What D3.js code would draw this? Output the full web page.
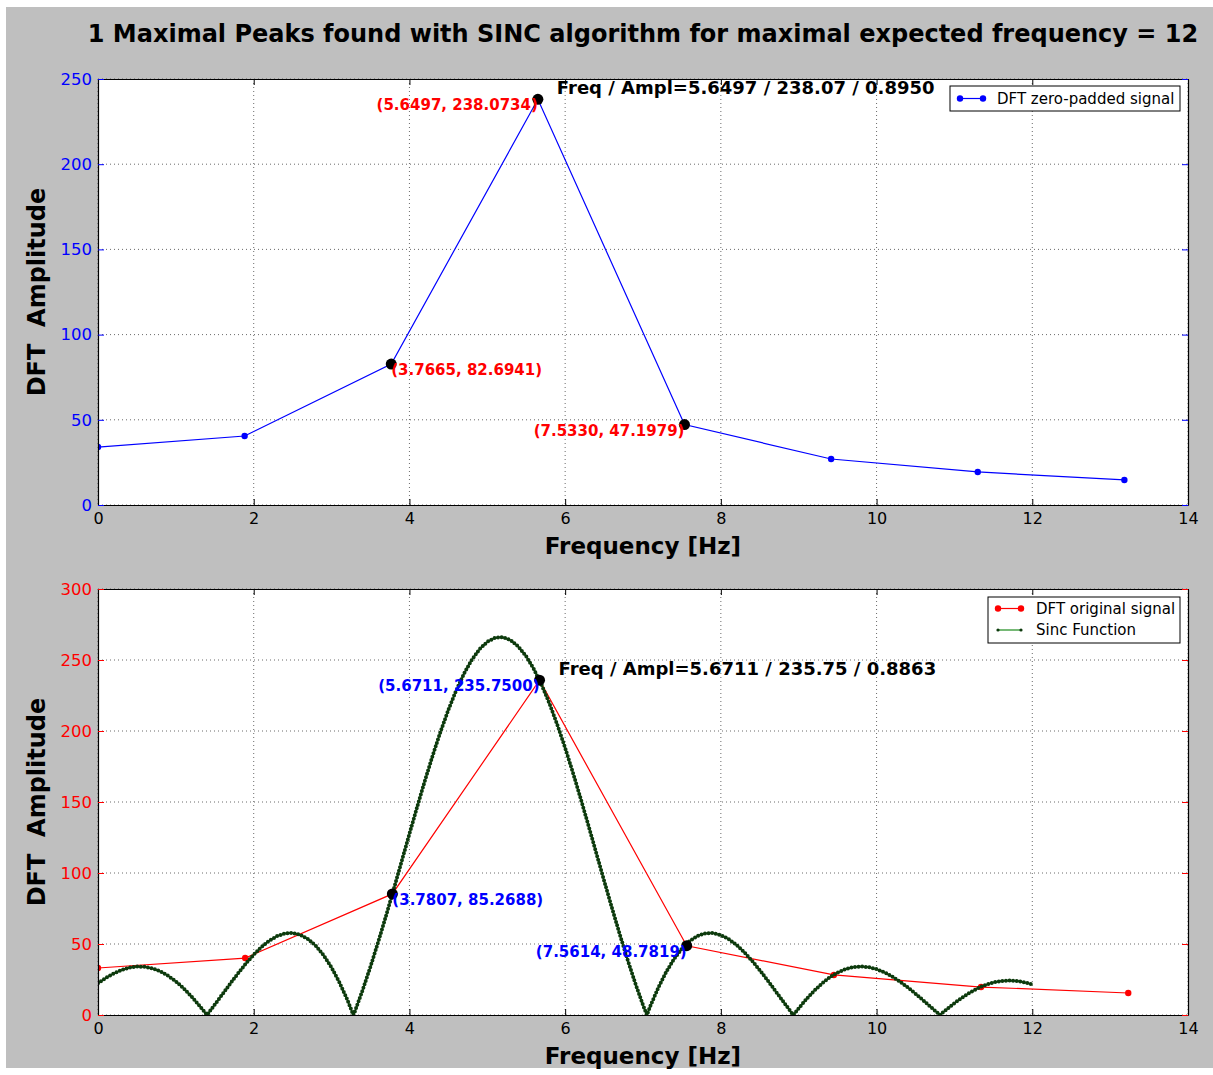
<!DOCTYPE html>
<html>
<head>
<meta charset="utf-8">
<script src="https://cdn.jsdelivr.net/npm/d3@7"></script>
<style>
  html, body { margin: 0; padding: 0; background: #ffffff; }
  svg { display: block; font-family: "DejaVu Sans", sans-serif; }
</style>
</head>
<body>
<svg id="chart" width="1213" height="1075"></svg>
<script>
// ---------------- DATA ----------------
const titleText = "1 Maximal Peaks found with SINC algorithm for maximal expected frequency = 12";
const xTicks = [0, 2, 4, 6, 8, 10, 12, 14];
const topYTicks = [0, 50, 100, 150, 200, 250];
const botYTicks = [0, 50, 100, 150, 200, 250, 300];

// DFT zero-padded signal (top panel)
const topFreq = [0, 1.8832, 3.7665, 5.6497, 7.5330, 9.4162, 11.2995, 13.1827];
const topAmp  = [34.0, 40.5, 82.6941, 238.0734, 47.1979, 27.0, 19.4, 14.7];
const topPeakFreq = [5.6497, 3.7665, 7.5330];
const topPeakAmp  = [238.0734, 82.6941, 47.1979];
const topPeakLabels = ["(5.6497, 238.0734)", "(3.7665, 82.6941)", "(7.5330, 47.1979)"];
const topInfo = "Freq / Ampl=5.6497 / 238.07 / 0.8950";

// DFT original signal (bottom panel)
const botFreq = [0, 1.8904, 3.7807, 5.6711, 7.5614, 9.4518, 11.3421, 13.2325];
const botAmp  = [33.1, 40.1, 85.2688, 235.75, 48.7819, 28.2, 19.7, 15.5];
const botPeakFreq = [5.6711, 3.7807, 7.5614];
const botPeakAmp  = [235.75, 85.2688, 48.7819];
const botPeakLabels = ["(5.6711, 235.7500)", "(3.7807, 85.2688)", "(7.5614, 48.7819)"];
const botInfo = "Freq / Ampl=5.6711 / 235.75 / 0.8863";

// Sinc function
const sincFreq = [0.0,0.1,0.2,0.3,0.4,0.5,0.6,0.7,0.8,0.9,1.0,1.1,1.2,1.3,1.4,1.5,1.6,1.7,1.8,1.9,
  2.0,2.1,2.2,2.3,2.4,2.5,2.6,2.7,2.8,2.9,3.0,3.1,3.2,3.28,3.3,3.4,3.5,3.6,3.7,3.8,3.9,
  4.0,4.1,4.2,4.3,4.4,4.5,4.6,4.7,4.8,4.9,5.0,5.1,5.2,5.3,5.4,5.5,5.6,5.7,5.8,5.9,
  6.0,6.1,6.2,6.3,6.4,6.5,6.6,6.7,6.8,6.9,7.0,7.05,7.1,7.2,7.3,7.4,7.5,7.6,7.7,7.8,7.9,
  8.0,8.1,8.2,8.3,8.4,8.5,8.6,8.7,8.8,8.9,8.93,9.0,9.1,9.2,9.3,9.4,9.5,9.6,9.7,9.8,9.9,
  10.0,10.1,10.2,10.3,10.4,10.5,10.6,10.7,10.8,10.81,10.9,11.0,11.1,11.2,11.3,11.4,11.5,11.6,11.7,11.8,11.9,12.0];
const sincAmp = [22.35,26.08,29.23,31.68,33.34,34.12,33.97,32.84,30.73,27.65,23.64,18.76,13.09,6.76,0.10,7.33,14.76,22.19,29.43,36.27,
  42.51,47.93,52.34,55.57,57.42,57.76,56.46,53.42,48.58,41.90,33.39,23.08,11.05,0,2.60,17.71,34.12,51.61,69.97,88.94,108.22,
  127.56,146.65,165.23,182.96,199.60,214.87,228.50,240.33,250.07,257.59,262.81,265.68,266.05,263.95,259.41,252.54,243.42,232.29,219.13,204.30,
  188.10,170.66,152.31,133.32,114.01,94.69,75.62,57.05,39.26,22.51,6.98,0,7.12,19.64,30.49,39.54,46.77,52.16,55.74,57.55,57.69,
  56.28,53.45,49.39,44.24,38.22,31.55,24.40,16.99,9.54,2.24,0,4.76,11.26,17.13,22.26,26.55,29.91,32.31,33.73,34.17,33.67,
  32.27,30.05,27.09,23.52,19.44,14.99,10.29,5.47,0.69,0,3.95,8.32,12.32,15.85,18.83,21.20,22.93,23.96,24.31,23.99,23.01,21.44];

// ---------------- DRAW ----------------
const svg = d3.select("#chart");
svg.append("rect").attr("x", 6).attr("y", 7).attr("width", 1207).attr("height", 1061).attr("fill", "#bfbfbf");

svg.append("text").attr("x", 643).attr("y", 42).attr("text-anchor", "middle")
  .attr("font-size", 24).attr("font-weight", "bold").attr("fill", "#000").text(titleText);

function panel(opt) {
  const x = d3.scaleLinear().domain([0, 14]).range([98, 1188]);
  const y = d3.scaleLinear().domain([0, opt.ymax]).range([opt.bottom, opt.top]);
  const g = svg.append("g");
  g.append("rect").attr("x", 98).attr("y", opt.top).attr("width", 1090).attr("height", opt.bottom - opt.top).attr("fill", "#fff");
  // grid
  const grid = g.append("g").attr("stroke", "#444").attr("stroke-width", 0.8).attr("stroke-dasharray", "1,3");
  xTicks.forEach(t => grid.append("line").attr("x1", x(t)).attr("x2", x(t)).attr("y1", opt.top).attr("y2", opt.bottom));
  opt.yticks.forEach(t => grid.append("line").attr("x1", 98).attr("x2", 1188).attr("y1", y(t)).attr("y2", y(t)));

  const clip = "clip" + opt.id;
  svg.append("clipPath").attr("id", clip).append("rect").attr("x", 98).attr("y", opt.top - 6).attr("width", 1090).attr("height", opt.bottom - opt.top + 6);
  const plot = g.append("g").attr("clip-path", `url(#${clip})`);
  opt.draw(plot, x, y);

  // axes with inward ticks
  const axB = d3.axisBottom(x).tickValues(xTicks).tickSizeInner(-6).tickSizeOuter(0).tickPadding(8).tickFormat(d3.format("d"));
  const axT = d3.axisTop(x).tickValues(xTicks).tickSizeInner(-6).tickSizeOuter(0).tickFormat("");
  const axL = d3.axisLeft(y).tickValues(opt.yticks).tickSizeInner(-6).tickSizeOuter(0).tickPadding(6).tickFormat(d3.format("d"));
  const axR = d3.axisRight(y).tickValues(opt.yticks).tickSizeInner(-6).tickSizeOuter(0).tickFormat("");
  const gb = g.append("g").attr("transform", `translate(0,${opt.bottom})`).call(axB);
  const gt = g.append("g").attr("transform", `translate(0,${opt.top})`).call(axT);
  const gl = g.append("g").attr("transform", `translate(98,0)`).call(axL);
  const gr = g.append("g").attr("transform", `translate(1188,0)`).call(axR);
  [gb, gt, gl, gr].forEach(a => { a.select(".domain").attr("stroke", "#000").attr("stroke-width", 1.2); });
  gb.selectAll("text").attr("font-size", 16).attr("fill", "#000").attr("font-family", "DejaVu Sans");
  gb.selectAll("line").attr("stroke", "#000");
  gt.selectAll("line").attr("stroke", "#000");
  gl.selectAll("text").attr("font-size", 16.5).attr("fill", opt.ycolor).attr("font-family", "DejaVu Sans");
  gl.selectAll("line").attr("stroke", opt.ycolor);
  gr.selectAll("line").attr("stroke", opt.ycolor);

  g.append("text").attr("x", 643).attr("y", opt.bottom + 49).attr("text-anchor", "middle")
    .attr("font-size", 23).attr("font-weight", "bold").attr("fill", "#000").text("Frequency [Hz]");
  g.append("text").attr("transform", `translate(45,${(opt.top + opt.bottom) / 2}) rotate(-90)`).attr("text-anchor", "middle")
    .attr("font-size", 24).attr("font-weight", "bold").attr("fill", "#000").attr("xml:space", "preserve").style("white-space", "pre").text("DFT  Amplitude");

  // peaks
  const pk = g.append("g");
  opt.peakFreq.forEach((f, i) => {
    pk.append("circle").attr("cx", x(f)).attr("cy", y(opt.peakAmp[i])).attr("r", 5.5).attr("fill", "#000");
  });
  // labels
  const lab = g.append("g").attr("font-size", 15).attr("font-weight", "bold").attr("fill", opt.labelColor);
  lab.append("text").attr("x", x(opt.peakFreq[0])).attr("y", y(opt.peakAmp[0]) + 11).attr("text-anchor", "end").text(opt.peakLabels[0]);
  lab.append("text").attr("x", x(opt.peakFreq[1])).attr("y", y(opt.peakAmp[1]) + 11).attr("text-anchor", "start").text(opt.peakLabels[1]);
  lab.append("text").attr("x", x(opt.peakFreq[2])).attr("y", y(opt.peakAmp[2]) + 11).attr("text-anchor", "end").text(opt.peakLabels[2]);
  g.append("text").attr("x", x(opt.peakFreq[0]) + 19).attr("y", y(opt.peakAmp[0]) - 5).attr("font-size", 18).attr("font-weight", "bold")
    .attr("fill", "#000").text(opt.info);
  opt.legend(g);
}

panel({
  id: "top", top: 79, bottom: 505, ymax: 250, yticks: topYTicks, ycolor: "#0000ff", labelColor: "#ff0000",
  peakFreq: topPeakFreq, peakAmp: topPeakAmp, peakLabels: topPeakLabels, info: topInfo,
  draw: (p, x, y) => {
    const pts = topFreq.map((f, i) => [x(f), y(topAmp[i])]);
    p.append("path").attr("d", d3.line()(pts)).attr("fill", "none").attr("stroke", "#0000ff").attr("stroke-width", 1.2);
    p.selectAll(".m").data(pts).join("circle").attr("cx", d => d[0]).attr("cy", d => d[1]).attr("r", 3.2).attr("fill", "#0000ff");
  },
  legend: g => {
    g.append("rect").attr("x", 950).attr("y", 86).attr("width", 230).attr("height", 25).attr("fill", "#fff").attr("stroke", "#000").attr("stroke-width", 1);
    g.append("line").attr("x1", 960).attr("x2", 983).attr("y1", 98.5).attr("y2", 98.5).attr("stroke", "#0000ff").attr("stroke-width", 1.2);
    [960, 983].forEach(cx => g.append("circle").attr("cx", cx).attr("cy", 98.5).attr("r", 3.2).attr("fill", "#0000ff"));
    g.append("text").attr("x", 997).attr("y", 104).attr("font-size", 15).attr("fill", "#000").text("DFT zero-padded signal");
  }
});

panel({
  id: "bot", top: 589, bottom: 1015, ymax: 300, yticks: botYTicks, ycolor: "#ff0000", labelColor: "#0000ff",
  peakFreq: botPeakFreq, peakAmp: botPeakAmp, peakLabels: botPeakLabels, info: botInfo,
  draw: (p, x, y) => {
    const pts = botFreq.map((f, i) => [x(f), y(botAmp[i])]);
    p.append("path").attr("d", d3.line()(pts)).attr("fill", "none").attr("stroke", "#ff0000").attr("stroke-width", 1.2);
    p.selectAll(".m").data(pts).join("circle").attr("cx", d => d[0]).attr("cy", d => d[1]).attr("r", 3.2).attr("fill", "#ff0000");
    const sp = sincFreq.map((f, i) => [x(f), y(sincAmp[i])]);
    const d = d3.line()(sp);
    p.append("path").attr("d", d).attr("fill", "none").attr("stroke", "#1a8a1a").attr("stroke-width", 1.3);
    p.append("path").attr("d", d).attr("fill", "none").attr("stroke", "#0d3a0d").attr("stroke-width", 4)
      .attr("stroke-linecap", "round").attr("stroke-dasharray", "0,3.6");
  },
  legend: g => {
    g.append("rect").attr("x", 988).attr("y", 597).attr("width", 192).attr("height", 46).attr("fill", "#fff").attr("stroke", "#000").attr("stroke-width", 1);
    g.append("line").attr("x1", 998).attr("x2", 1021).attr("y1", 608.5).attr("y2", 608.5).attr("stroke", "#ff0000").attr("stroke-width", 1.2);
    [998, 1021].forEach(cx => g.append("circle").attr("cx", cx).attr("cy", 608.5).attr("r", 3.2).attr("fill", "#ff0000"));
    g.append("text").attr("x", 1036).attr("y", 614).attr("font-size", 15).attr("fill", "#000").text("DFT original signal");
    g.append("line").attr("x1", 998).attr("x2", 1021).attr("y1", 630).attr("y2", 630).attr("stroke", "#1a8a1a").attr("stroke-width", 1.2);
    [998, 1021].forEach(cx => g.append("circle").attr("cx", cx).attr("cy", 630).attr("r", 1.6).attr("fill", "#0d3a0d"));
    g.append("text").attr("x", 1036).attr("y", 635).attr("font-size", 15).attr("fill", "#000").text("Sinc Function");
  }
});
</script>
</body>
</html>
